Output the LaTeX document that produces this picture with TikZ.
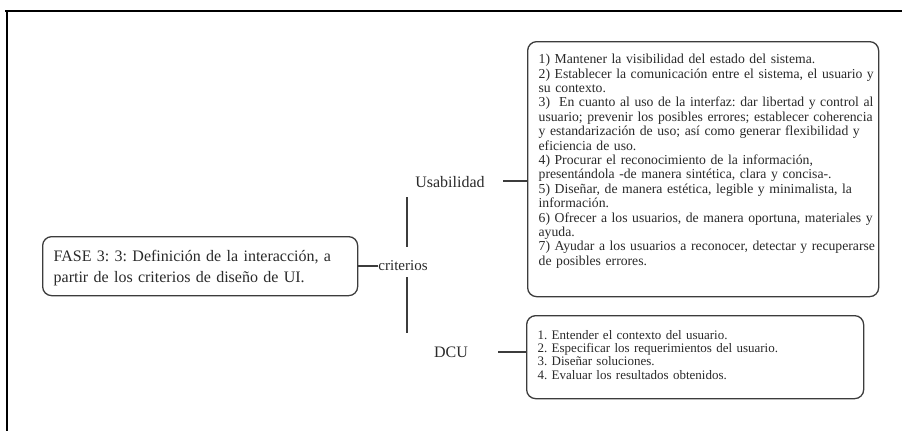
\documentclass[tikz,border=0pt]{standalone}
\usepackage{fontspec}
\setmainfont{Liberation Serif}
\frenchspacing
\definecolor{linec}{HTML}{3C3C3C}
\definecolor{txtc}{HTML}{2A2A2A}
\newcommand\bxtext[1]{\mbox{\hspace*{8pt}#1}}
\newcommand\bxline[1]{\bxtext{#1}\\}
\newcommand\tightlines{\lineskiplimit=-30pt\relax\lineskip=0pt\relax}
\begin{document}
\begin{tikzpicture}[x=1pt,y=-1pt,
  box/.style={draw=linec, line width=1.3pt, rounded corners=9pt, align=left,
    text=txtc, inner xsep=11pt, inner ysep=0pt, anchor=north west},
  conn/.style={draw=linec, line width=1.3pt},
  lbl/.style={text=txtc, inner sep=0pt}]
\useasboundingbox[fill=white] (0,0) rectangle (902,431);
\draw[line width=1.8pt, black] (5,11) -- (902,11);
\draw[line width=1.8pt, black] (7,11) -- (7,431);

\node[box, text width=345pt, inner xsep=3pt, text height=22pt, text depth=233pt,
  font=\fontsize{13.7}{14.4}\selectfont] (ubox) at (527,41) {%
\tightlines
\bxline{1) Mantener la visibilidad del estado del sistema.}
\bxline{2) Establecer la comunicación entre el sistema, el usuario y}
\bxline{su contexto.}
\bxline{3)\ \ En cuanto al uso de la interfaz: dar libertad y control al}
\bxline{usuario; prevenir los posibles errores; establecer coherencia}
\bxline{y estandarización de uso; así como generar flexibilidad y}
\bxline{eficiencia de uso.}
\bxline{4) Procurar el reconocimiento de la información,}
\bxline{presentándola -de manera sintética, clara y concisa-.}
\bxline{5) Diseñar, de manera estética, legible y minimalista, la}
\bxline{información.}
\bxline{6) Ofrecer a los usuarios, de manera oportuna, materiales y}
\bxline{ayuda.}
\bxline{7) Ayudar a los usuarios a reconocer, detectar y recuperarse}
\bxtext{de posibles errores.}};

\node[box, text width=315pt, text height=23.5pt, text depth=59.5pt,
  font=\fontsize{13}{13.3}\selectfont] (dbox) at (526,315) {%
\tightlines
1. Entender el contexto del usuario.\\
2. Especificar los requerimientos del usuario.\\
3. Diseñar soluciones.\\
4. Evaluar los resultados obtenidos.};

\node[box, text width=293pt, text height=25pt, text depth=34pt,
  font=\fontsize{16}{21}\selectfont] (fase) at (42,236) {%
FASE 3: 3: Definición de la interacción, a\\
partir de los criterios de diseño de UI.};

\node[lbl, font=\fontsize{16}{16}\selectfont] (usab) at (450,182) {Usabilidad};
\node[lbl, font=\fontsize{16}{16}\selectfont] (dcu) at (451,352) {DCU};
\node[lbl, font=\fontsize{15}{15}\selectfont] (crit) at (403,266) {criterios};

\coordinate (vt) at (407,197);
\coordinate (vu) at (407,247);
\coordinate (vl) at (407,277);
\coordinate (vb) at (407,333);
\coordinate (ua) at (503,181);
\coordinate (da) at (498,352);

\draw[conn] (fase.east |- crit.west) -- (crit.west);
\draw[conn] (vt) -- (vu);
\draw[conn] (vl) -- (vb);
\draw[conn] (ua) -- (ua -| ubox.west);
\draw[conn] (da) -- (da -| dbox.west);
\end{tikzpicture}
\end{document}
